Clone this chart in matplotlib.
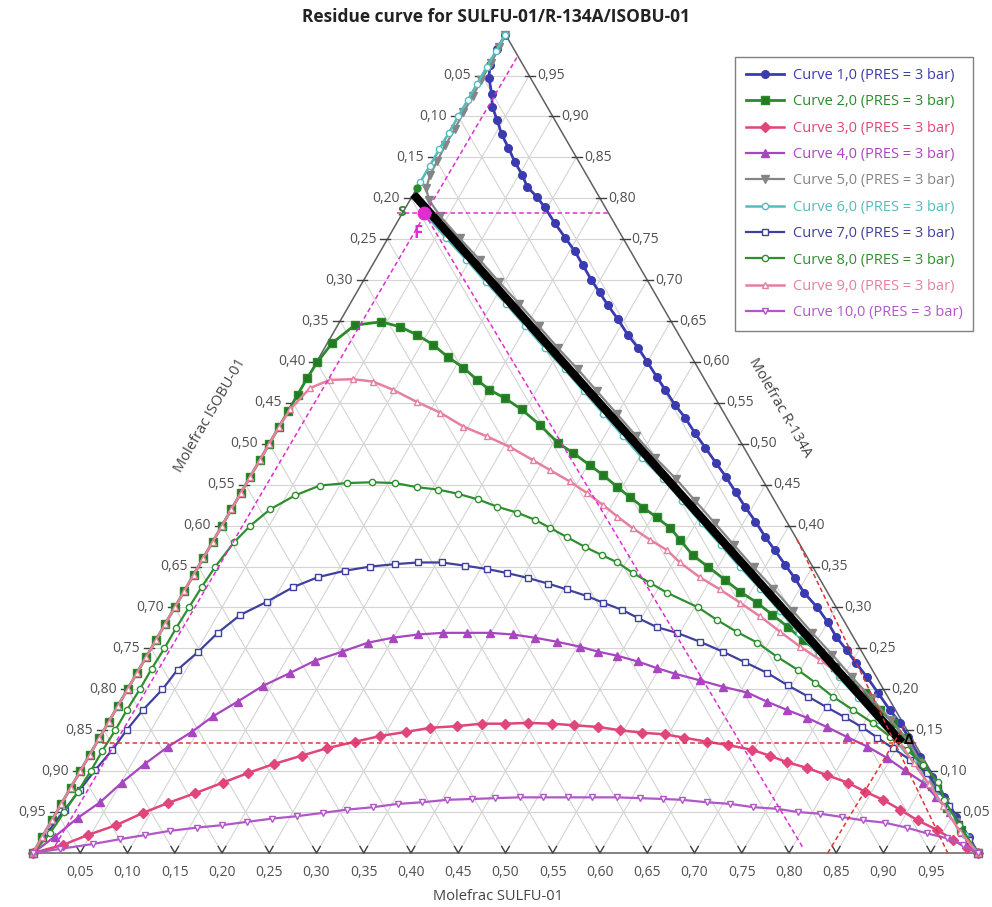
import numpy as np
import matplotlib
matplotlib.use("Agg")
import matplotlib.pyplot as plt
from matplotlib.lines import Line2D

plt.rcParams['font.family'] = ['Open Sans', 'DejaVu Sans']

# ---------------------------------------------------------------------------
# Residue curves, given as (x SULFU-01, x R-134A) pairs; x ISOBU-01 = 1 - both
# ---------------------------------------------------------------------------
curve1 = [(0.000, 1.000), (0.000, 0.982), (0.002, 0.963), (0.009, 0.947), (0.022, 0.927),
          (0.030, 0.912), (0.043, 0.896), (0.057, 0.878), (0.072, 0.862), (0.088, 0.844),
          (0.103, 0.829), (0.116, 0.814), (0.132, 0.802), (0.147, 0.789), (0.167, 0.770),
          (0.187, 0.752), (0.206, 0.735), (0.222, 0.719), (0.241, 0.700), (0.257, 0.685),
          (0.273, 0.670), (0.293, 0.652), (0.313, 0.633), (0.332, 0.617), (0.350, 0.600),
          (0.369, 0.582), (0.386, 0.566), (0.405, 0.548), (0.424, 0.532), (0.444, 0.513),
          (0.464, 0.495), (0.484, 0.477), (0.503, 0.460), (0.523, 0.441), (0.542, 0.423),
          (0.562, 0.405), (0.582, 0.386), (0.600, 0.370), (0.620, 0.352), (0.638, 0.336),
          (0.657, 0.318), (0.680, 0.300), (0.700, 0.282), (0.718, 0.264), (0.737, 0.248),
          (0.755, 0.232), (0.775, 0.215), (0.796, 0.196), (0.819, 0.175), (0.838, 0.159),
          (0.855, 0.142), (0.880, 0.117), (0.905, 0.093), (0.930, 0.068), (0.955, 0.044),
          (0.980, 0.020), (1.000, 0.000)]

curve2 = [(0.000, 0.000), (0.000, 0.020), (0.000, 0.040), (0.000, 0.060), (0.000, 0.080),
          (0.000, 0.100), (0.000, 0.120), (0.000, 0.140), (0.000, 0.160), (0.000, 0.180),
          (0.000, 0.200), (0.000, 0.220), (0.000, 0.240), (0.000, 0.260), (0.000, 0.280),
          (0.000, 0.300), (0.000, 0.320), (0.000, 0.340), (0.000, 0.360), (0.000, 0.380),
          (0.000, 0.400), (0.000, 0.420), (0.000, 0.440), (0.000, 0.460), (0.000, 0.480),
          (0.000, 0.500), (0.000, 0.520), (0.000, 0.540), (0.000, 0.560), (0.000, 0.580),
          (0.001, 0.600), (0.005, 0.623), (0.018, 0.645), (0.044, 0.649), (0.067, 0.643),
          (0.090, 0.633), (0.113, 0.621), (0.136, 0.606), (0.159, 0.593), (0.181, 0.578),
          (0.200, 0.566), (0.221, 0.556), (0.246, 0.542), (0.275, 0.523), (0.305, 0.501),
          (0.327, 0.489), (0.352, 0.474), (0.372, 0.462), (0.395, 0.447), (0.414, 0.435),
          (0.435, 0.422), (0.455, 0.410), (0.476, 0.397), (0.493, 0.383), (0.516, 0.364),
          (0.539, 0.350), (0.565, 0.334), (0.589, 0.319), (0.613, 0.306), (0.637, 0.291),
          (0.661, 0.276), (0.685, 0.260), (0.711, 0.244), (0.735, 0.227), (0.759, 0.211),
          (0.782, 0.196), (0.809, 0.175), (0.831, 0.159), (0.852, 0.141), (0.880, 0.112),
          (0.910, 0.082), (0.940, 0.055), (0.968, 0.028), (1.000, 0.000)]

curve3 = [(0.000, 0.000), (0.027, 0.010), (0.047, 0.022), (0.071, 0.034), (0.092, 0.049),
          (0.112, 0.061), (0.135, 0.073), (0.158, 0.086), (0.179, 0.098), (0.201, 0.109),
          (0.225, 0.119), (0.247, 0.128), (0.273, 0.136), (0.296, 0.143), (0.321, 0.148),
          (0.344, 0.153), (0.371, 0.155), (0.396, 0.158), (0.421, 0.158), (0.444, 0.159),
          (0.470, 0.158), (0.495, 0.156), (0.521, 0.154), (0.546, 0.150), (0.571, 0.147),
          (0.596, 0.145), (0.618, 0.141), (0.645, 0.136), (0.669, 0.132), (0.698, 0.126),
          (0.720, 0.119), (0.742, 0.111), (0.767, 0.104), (0.793, 0.095), (0.819, 0.086),
          (0.843, 0.075), (0.867, 0.065), (0.891, 0.053), (0.916, 0.040), (0.943, 0.028),
          (0.966, 0.016), (0.985, 0.006), (1.000, 0.000)]

curve4 = [(0.000, 0.000), (0.013, 0.020), (0.026, 0.043), (0.040, 0.062), (0.051, 0.086),
          (0.064, 0.109), (0.078, 0.130), (0.094, 0.148), (0.107, 0.167), (0.124, 0.185),
          (0.141, 0.204), (0.162, 0.220), (0.181, 0.235), (0.204, 0.246), (0.226, 0.257),
          (0.249, 0.263), (0.274, 0.267), (0.299, 0.269), (0.325, 0.269), (0.349, 0.269),
          (0.374, 0.267), (0.400, 0.263), (0.426, 0.258), (0.453, 0.252), (0.475, 0.246),
          (0.498, 0.241), (0.523, 0.234), (0.547, 0.226), (0.570, 0.219), (0.600, 0.211),
          (0.629, 0.203), (0.658, 0.196), (0.684, 0.185), (0.710, 0.175), (0.737, 0.165),
          (0.763, 0.154), (0.790, 0.142), (0.818, 0.130), (0.846, 0.116), (0.872, 0.101),
          (0.899, 0.086), (0.922, 0.068), (0.945, 0.050), (0.970, 0.026), (1.000, 0.000)]

curve5 = [(0.000, 1.000), (0.001, 0.985), (0.002, 0.965), (0.002, 0.945), (0.003, 0.925),
          (0.003, 0.905), (0.004, 0.885), (0.004, 0.865), (0.005, 0.845), (0.006, 0.828),
          (0.010, 0.812), (0.020, 0.798), (0.042, 0.778), (0.076, 0.751), (0.110, 0.725),
          (0.144, 0.698), (0.179, 0.671), (0.213, 0.644), (0.247, 0.617), (0.281, 0.591),
          (0.315, 0.564), (0.349, 0.537), (0.383, 0.510), (0.417, 0.483), (0.452, 0.457),
          (0.486, 0.430), (0.520, 0.403), (0.554, 0.376), (0.588, 0.349), (0.622, 0.323),
          (0.656, 0.296), (0.690, 0.269), (0.725, 0.242), (0.759, 0.215), (0.793, 0.189),
          (0.827, 0.162), (0.860, 0.135), (0.884, 0.110), (0.909, 0.086), (0.934, 0.062),
          (0.958, 0.038), (0.980, 0.017), (1.000, 0.000)]

curve6 = [(0.000, 1.000), (0.000, 0.980), (0.000, 0.960), (0.000, 0.940), (0.000, 0.920),
          (0.000, 0.900), (0.000, 0.880), (0.000, 0.860), (0.000, 0.840), (0.000, 0.820),
          (0.004, 0.802), (0.028, 0.778), (0.062, 0.751), (0.096, 0.725), (0.130, 0.698),
          (0.165, 0.671), (0.199, 0.644), (0.233, 0.617), (0.267, 0.591), (0.301, 0.564),
          (0.335, 0.537), (0.369, 0.510), (0.403, 0.483), (0.438, 0.457), (0.472, 0.430),
          (0.506, 0.403), (0.540, 0.376), (0.574, 0.349), (0.608, 0.323), (0.642, 0.296),
          (0.676, 0.269), (0.711, 0.242), (0.745, 0.215), (0.779, 0.189), (0.813, 0.162),
          (0.847, 0.135), (0.875, 0.112), (0.900, 0.090), (0.925, 0.068), (0.950, 0.045),
          (0.975, 0.022), (1.000, 0.000)]

curve7 = [(0.000, 0.000), (0.003, 0.026), (0.007, 0.053), (0.011, 0.077), (0.015, 0.101),
          (0.021, 0.126), (0.024, 0.150), (0.029, 0.175), (0.037, 0.200), (0.041, 0.224),
          (0.052, 0.246), (0.061, 0.269), (0.074, 0.291), (0.094, 0.307), (0.113, 0.325),
          (0.133, 0.337), (0.158, 0.345), (0.182, 0.350), (0.207, 0.353), (0.230, 0.355),
          (0.255, 0.355), (0.282, 0.351), (0.307, 0.347), (0.331, 0.342), (0.356, 0.336),
          (0.381, 0.329), (0.404, 0.322), (0.429, 0.314), (0.450, 0.306), (0.475, 0.297),
          (0.497, 0.287), (0.522, 0.276), (0.547, 0.269), (0.577, 0.258), (0.607, 0.246),
          (0.637, 0.233), (0.667, 0.220), (0.696, 0.205), (0.725, 0.191), (0.751, 0.178),
          (0.776, 0.166), (0.800, 0.154), (0.823, 0.141), (0.846, 0.128), (0.871, 0.114),
          (0.897, 0.098), (0.918, 0.079), (0.940, 0.058), (0.962, 0.036), (0.982, 0.016),
          (1.000, 0.000)]

curve8 = [(0.000, 0.000), (0.006, 0.025), (0.008, 0.050), (0.010, 0.075), (0.011, 0.100),
          (0.011, 0.125), (0.012, 0.150), (0.012, 0.175), (0.013, 0.200), (0.013, 0.225),
          (0.014, 0.250), (0.014, 0.275), (0.015, 0.300), (0.016, 0.325), (0.018, 0.350),
          (0.023, 0.380), (0.030, 0.400), (0.041, 0.420), (0.059, 0.437), (0.079, 0.449),
          (0.106, 0.452), (0.132, 0.453), (0.157, 0.452), (0.183, 0.447), (0.207, 0.444),
          (0.230, 0.439), (0.255, 0.432), (0.280, 0.423), (0.304, 0.416), (0.328, 0.407),
          (0.349, 0.397), (0.372, 0.386), (0.397, 0.374), (0.420, 0.364), (0.441, 0.355),
          (0.464, 0.342), (0.488, 0.330), (0.512, 0.318), (0.554, 0.300), (0.581, 0.285),
          (0.610, 0.270), (0.638, 0.257), (0.667, 0.240), (0.697, 0.224), (0.724, 0.208),
          (0.751, 0.191), (0.780, 0.175), (0.809, 0.159), (0.836, 0.142), (0.862, 0.126),
          (0.888, 0.108), (0.914, 0.087), (0.932, 0.065), (0.963, 0.034), (1.000, 0.000)]

curve9 = [(0.000, 0.000), (0.000, 0.020), (0.000, 0.040), (0.000, 0.060), (0.000, 0.080),
          (0.000, 0.100), (0.000, 0.120), (0.000, 0.140), (0.000, 0.160), (0.000, 0.180),
          (0.000, 0.200), (0.000, 0.220), (0.000, 0.240), (0.000, 0.260), (0.000, 0.280),
          (0.000, 0.300), (0.000, 0.320), (0.000, 0.340), (0.000, 0.360), (0.000, 0.380),
          (0.000, 0.400), (0.000, 0.420), (0.000, 0.440), (0.000, 0.460), (0.000, 0.480),
          (0.000, 0.500), (0.000, 0.520), (0.001, 0.542), (0.009, 0.568), (0.025, 0.578),
          (0.049, 0.579), (0.072, 0.576), (0.098, 0.566), (0.131, 0.551), (0.162, 0.538),
          (0.195, 0.521), (0.226, 0.509), (0.257, 0.496), (0.289, 0.480), (0.313, 0.468),
          (0.341, 0.454), (0.366, 0.440), (0.391, 0.425), (0.413, 0.411), (0.436, 0.397),
          (0.461, 0.383), (0.486, 0.370), (0.507, 0.355), (0.537, 0.337), (0.566, 0.322),
          (0.595, 0.306), (0.625, 0.289), (0.656, 0.270), (0.686, 0.252), (0.715, 0.236),
          (0.745, 0.218), (0.776, 0.199), (0.800, 0.178), (0.822, 0.159), (0.848, 0.136),
          (0.877, 0.110), (0.906, 0.084), (0.934, 0.058), (0.968, 0.026), (1.000, 0.000)]

curve10 = [(0.000, 0.000), (0.026, 0.005), (0.058, 0.011), (0.084, 0.017), (0.108, 0.022),
           (0.131, 0.027), (0.158, 0.031), (0.183, 0.034), (0.207, 0.038), (0.232, 0.042),
           (0.257, 0.045), (0.282, 0.049), (0.306, 0.053), (0.332, 0.056), (0.356, 0.060),
           (0.381, 0.062), (0.406, 0.065), (0.432, 0.066), (0.455, 0.067), (0.481, 0.068),
           (0.506, 0.068), (0.532, 0.068), (0.558, 0.068), (0.584, 0.068), (0.609, 0.067),
           (0.634, 0.066), (0.654, 0.065), (0.682, 0.062), (0.708, 0.060), (0.734, 0.056),
           (0.760, 0.054), (0.785, 0.050), (0.809, 0.048), (0.834, 0.044), (0.858, 0.040),
           (0.883, 0.037), (0.909, 0.031), (0.934, 0.024), (0.958, 0.018), (0.979, 0.010),
           (1.000, 0.000)]

curve_labels = ["Curve 1,0 (PRES = 3 bar)", "Curve 2,0 (PRES = 3 bar)",
                "Curve 3,0 (PRES = 3 bar)", "Curve 4,0 (PRES = 3 bar)",
                "Curve 5,0 (PRES = 3 bar)", "Curve 6,0 (PRES = 3 bar)",
                "Curve 7,0 (PRES = 3 bar)", "Curve 8,0 (PRES = 3 bar)",
                "Curve 9,0 (PRES = 3 bar)", "Curve 10,0 (PRES = 3 bar)"]

# Feed, distillate and the azeotrope end of the balance line (SULFU, R-134A)
point_F = (0.023, 0.782)
point_D = (0.852, 0.135)
point_azeo = (0.000, 0.805)

tick_values = [0.05, 0.10, 0.15, 0.20, 0.25, 0.30, 0.35, 0.40, 0.45, 0.50,
               0.55, 0.60, 0.65, 0.70, 0.75, 0.80, 0.85, 0.90, 0.95]

# ---------------------------------------------------------------------------
W, H = 992, 907
SIDE = 945.0            # triangle side in pixels
X0, Y0 = 33.0, 853.0    # pixel position of the pure ISOBU-01 corner
PX = 1.0 / SIDE


def tern(S, R):
    S = np.asarray(S, float)
    R = np.asarray(R, float)
    return S + R / 2.0, R * np.sqrt(3) / 2.0


def pix(xp, yp):
    return (xp - X0) / SIDE, (Y0 - yp) / SIDE


fig = plt.figure(figsize=(W / 100, H / 100), dpi=100)
ax = fig.add_axes([0, 0, 1, 1])
ax.set_xlim(-X0 / SIDE, (W - X0) / SIDE)
ax.set_ylim(-(H - Y0) / SIDE, Y0 / SIDE)
ax.set_aspect('equal')
ax.axis('off')

# triangular grid
grid_kw = dict(color='#d4d4d4', lw=0.8, zorder=1)
for f in tick_values:
    ax.plot(*tern([0, 1 - f], [f, f]), **grid_kw)
    ax.plot(*tern([f, f], [0, 1 - f]), **grid_kw)
    ax.plot(*tern([1 - f, 0], [0, 1 - f]), **grid_kw)

# triangle frame
edge_col = '#606060'
ax.plot(*tern([0, 1, 0, 0], [0, 0, 1, 0]), color=edge_col, lw=1.1, zorder=2)

lab_col = '#505050'
lab_fs = 10
d = 0.008
for f in tick_values:
    txt = f"{f:.2f}".replace('.', ',')
    txt_i = f"{1 - f:.2f}".replace('.', ',')
    # bottom "v" ticks
    ax.plot(*tern([f - d, f, f], [d, 0, d]), color='#404040', lw=1.0, zorder=2)
    ax.text(f, -20 * PX, txt, ha='center', va='center', fontsize=lab_fs, color=lab_col)
    # left edge
    xl, yl = tern(0, f)
    ax.plot([xl - 7 * PX, xl + 3 * PX], [yl, yl], color='#404040', lw=1.0, zorder=2)
    ax.text(xl - 11 * PX, yl, txt_i, ha='right', va='center', fontsize=lab_fs, color=lab_col)
    # right edge
    xr, yr = tern(1 - f, f)
    ax.plot([xr - 4 * PX, xr + 6 * PX], [yr, yr], color='#404040', lw=1.0, zorder=2)
    ax.text(xr + 8 * PX, yr, txt, ha='left', va='center', fontsize=lab_fs, color=lab_col)

# residue curves
styles = [
    dict(color='#3b3bb0', marker='o', ms=5.5, mfc='#3b3bb0', lw=2.0),
    dict(color='#2b8a2b', marker='s', ms=5.5, mfc='#237a23', lw=2.0),
    dict(color='#e0457b', marker='D', ms=5.0, mfc='#e0457b', lw=1.8),
    dict(color='#a945c0', marker='^', ms=6.0, mfc='#a945c0', lw=1.6),
    dict(color='#858585', marker='v', ms=6.0, mfc='#858585', lw=1.6),
    dict(color='#55bcbc', marker='o', ms=4.5, mfc='white', lw=1.8),
    dict(color='#40409f', marker='s', ms=4.0, mfc='white', lw=1.6),
    dict(color='#2f8f2f', marker='o', ms=4.5, mfc='white', lw=1.6),
    dict(color='#e5809f', marker='^', ms=4.5, mfc='white', lw=1.8),
    dict(color='#b058c8', marker='v', ms=4.5, mfc='white', lw=1.6),
]
curves = [curve1, curve2, curve3, curve4, curve5, curve6, curve7, curve8, curve9, curve10]
handles = []
for pts, st, lab in zip(curves, styles, curve_labels):
    S = [p[0] for p in pts]
    R = [p[1] for p in pts]
    x, y = tern(S, R)
    kw = dict(color=st['color'], lw=st['lw'], marker=st['marker'], ms=st['ms'],
              mfc=st['mfc'], mec=st['color'], mew=1.0)
    ax.plot(x, y, zorder=3, **kw)
    handles.append(Line2D([], [], **kw))

# material balance line through F
ax.plot(*tern([point_azeo[0], point_D[0]], [point_azeo[1], point_D[1]]),
        color='black', lw=6, solid_capstyle='butt', zorder=5)

# composition guide lines for F (magenta) and D (red)
mag = '#e02cd2'
red = '#e03535'
dash = dict(lw=1.1, ls=(0, (3, 2)), zorder=6)
ax.plot(*tern([-0.006, 1 - point_F[1]], [point_F[1], point_F[1]]), color=mag, **dash)
ax.plot(*tern([0.026, 0.019], [0.972, 0.005]), color=mag, **dash)
ax.plot(*tern([point_F[0], 0.811], [point_F[1], 0.007]), color=mag, **dash)
ax.plot(*tern([0.006, 1 - point_D[1] + 0.004], [point_D[1], point_D[1]]), color=red, **dash)
ax.plot(*tern([0.617, 0.968], [0.383, 0.0]), color=red, **dash)
ax.plot(*tern([0.841, 0.844], [0.0, 0.156]), color=red, **dash)

# marked points
ax.plot(*tern(*point_F), marker='o', ms=9, color=mag, zorder=7)
ax.plot(*tern(0.0, 0.812), marker='o', ms=5, color='#2b8a2b', zorder=7)
ax.text(*pix(418, 233), 'F', color=mag, fontsize=12, fontweight='bold',
        ha='center', va='center', zorder=8)
ax.text(*pix(401, 212), 'S', color='#2b8a2b', fontsize=11, fontweight='bold',
        ha='center', va='center', zorder=8)
ax.text(*pix(909, 740), 'Δ', color='black', fontsize=11, fontweight='bold',
        ha='center', va='center', zorder=8)

# titles
fig.text(496 / W, 1 - 17 / H, 'Residue curve for SULFU-01/R-134A/ISOBU-01',
         ha='center', va='center', fontsize=12.5, fontweight='bold', color='#222222')
ax.text(*pix(498, 897), 'Molefrac SULFU-01', ha='center', va='center',
        fontsize=10.5, color='#444444')
ax.text(*pix(210, 415), 'Molefrac ISOBU-01', ha='center', va='center',
        fontsize=10.5, color='#444444', rotation=60)
ax.text(*pix(780, 408), 'Molefrac R-134A', ha='center', va='center',
        fontsize=10.5, color='#444444', rotation=-60)

leg = ax.legend(handles, curve_labels, loc='upper left',
                bbox_to_anchor=(735 / W, 1 - 57 / H), bbox_transform=fig.transFigure,
                borderaxespad=0.0, fontsize=10.5, frameon=True, fancybox=False,
                framealpha=1, edgecolor='#808080', labelspacing=0.78,
                handlelength=2.6, handletextpad=0.6, borderpad=0.75)
leg.get_frame().set_linewidth(1.0)
for t, st in zip(leg.get_texts(), styles):
    t.set_color(st['color'])

fig.savefig('out.png', dpi=100)
